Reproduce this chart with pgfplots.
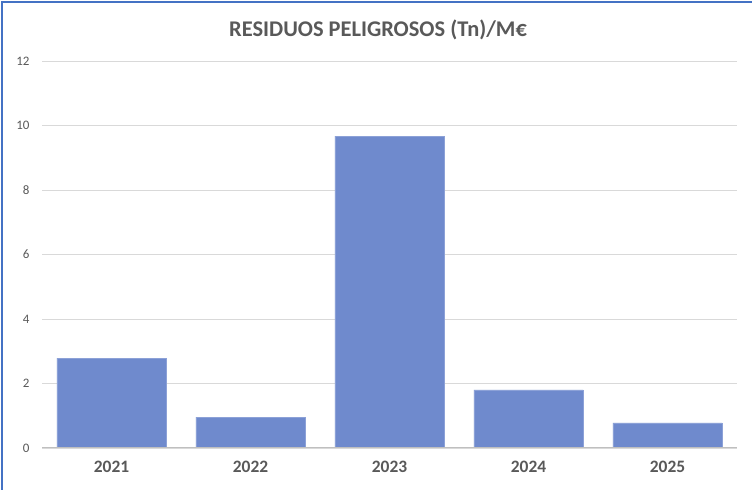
\documentclass[border=0pt]{standalone}
\usepackage{fontspec}
\setmainfont{Carlito}
\usepackage{pgfplots}
\pgfplotsset{compat=1.18}
\definecolor{barblue}{RGB}{111,138,205}
\definecolor{frameblue}{RGB}{68,114,196}
\definecolor{txtgray}{RGB}{89,89,89}
\definecolor{gridgray}{RGB}{217,217,217}

\begin{document}
\begin{tikzpicture}[x=1bp,y=1bp]
  \useasboundingbox (0,0) rectangle (752,490);
  \fill[white] (0,0) rectangle (752,490);
  \draw[frameblue,line width=2bp] (2,0) -- (2,488) -- (752,488);
  \node[font=\fontsize{22.5}{26}\selectfont\bfseries,text=txtgray] at (378,460) {RESIDUOS PELIGROSOS (Tn)/M€};
  \begin{axis}[
      at={(42bp,42bp)},
      anchor=south west,
      scale only axis,
      width=695bp,
      height=387bp,
      ybar,
      bar width=0.785,
      xmin=-0.5, xmax=4.5,
      ymin=0, ymax=12,
      ytick={0,2,4,6,8,10,12},
      xtick={0,1,2,3,4},
      xticklabels={2021,2022,2023,2024,2025},
      axis line style={draw=none},
      major tick length=0pt,
      ymajorgrids=true,
      grid style={gridgray,line width=0.9bp},
      /pgf/number format/assume math mode=true,
      yticklabel style={font=\fontsize{13}{15}\selectfont,text=txtgray,xshift=-9bp},
      xticklabel style={font=\fontsize{17.5}{20}\selectfont\bfseries,text=txtgray,yshift=-10bp},
    ]
    \addplot[draw=barblue!80!white, fill=barblue] coordinates {
      (0,2.79) (1,0.96) (2,9.67) (3,1.80) (4,0.78)
    };
    \draw[gridgray!80!black!60!gridgray,line width=1bp] (axis cs:-0.5,0) -- (axis cs:4.5,0);
  \end{axis}
\end{tikzpicture}
\end{document}
